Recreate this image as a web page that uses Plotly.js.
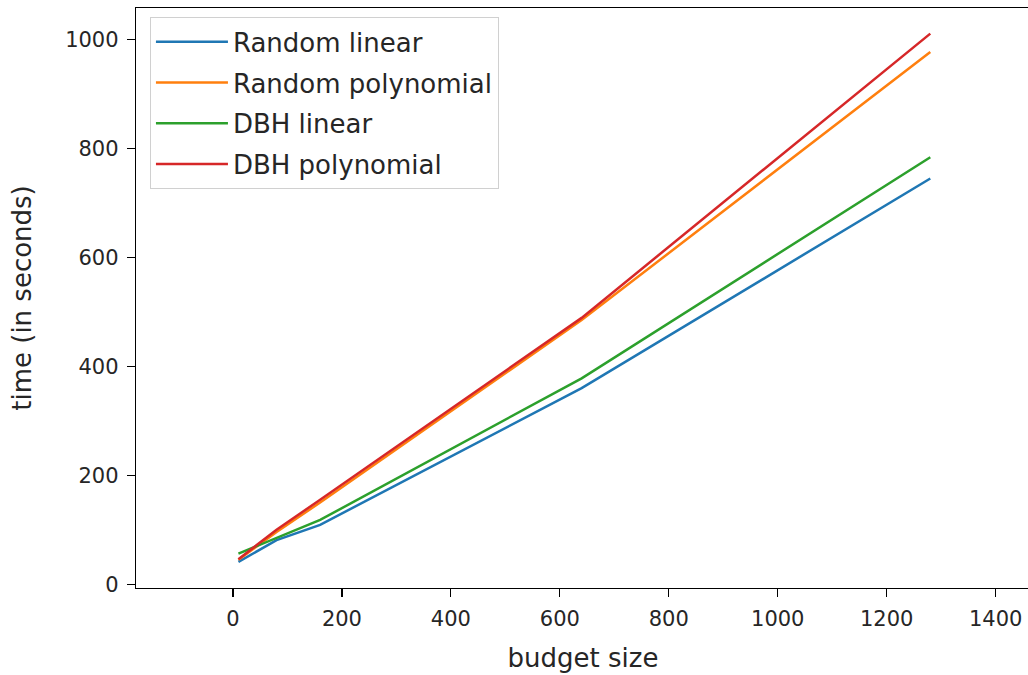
<!DOCTYPE html>
<html>
<head>
<meta charset="utf-8">
<script src="https://cdn.plot.ly/plotly-3.0.1.min.js"></script>
<style>
html,body{margin:0;padding:0;overflow:hidden;background:#fff;width:1028px;height:675px;}
#chart{width:1040px;height:675px;}
</style>
</head>
<body>
<div id="chart"></div>
<script>
const budget = [10, 80, 160, 640, 1280];
const randomLinear = [41, 81, 109, 360, 745];
const randomPoly = [45, 96, 150, 485, 977];
const dbhLinear = [56, 85, 118, 378, 784];
const dbhPoly = [46, 100, 155, 489, 1011];
const seriesNames = ["Random linear", "Random polynomial", "DBH linear", "DBH polynomial"];
const seriesColors = ["#1f77b4", "#ff7f0e", "#2ca02c", "#d62728"];
const seriesValues = [randomLinear, randomPoly, dbhLinear, dbhPoly];
const xTicks = [0, 200, 400, 600, 800, 1000, 1200, 1400];
const yTicks = [0, 200, 400, 600, 800, 1000];

const traces = seriesValues.map((vals, i) => ({
  x: budget, y: vals, type: 'scatter', mode: 'lines', name: seriesNames[i],
  legendgroup: 'g' + i,
  line: {color: seriesColors[i], width: 2.5}
}));

const axisCommon = {
  showline: true, linecolor: '#000', linewidth: 1.2, mirror: true,
  ticks: 'outside', ticklen: 8, tickwidth: 1.2, tickcolor: '#000',
  ticklabelstandoff: 4,
  showgrid: false, zeroline: false,
  tickfont: {family: 'DejaVu Sans', size: 21, color: '#262626'}
};

const layout = {
  width: 1040, height: 675,
  margin: {l: 136, r: 10, t: 8, b: 87},
  paper_bgcolor: '#fff', plot_bgcolor: '#fff',
  font: {family: 'DejaVu Sans', color: '#262626'},
  xaxis: Object.assign({}, axisCommon, {
    range: [-178, 1463], tickvals: xTicks, ticktext: xTicks.map(String),
    title: {text: 'budget size', font: {family: 'DejaVu Sans', size: 26, color: '#262626'}, standoff: 18}
  }),
  yaxis: Object.assign({}, axisCommon, {
    range: [-7, 1058], tickvals: yTicks, ticktext: yTicks.map(String),
    title: {text: 'time (in seconds)', font: {family: 'DejaVu Sans', size: 26, color: '#262626'}, standoff: 26}
  }),
  showlegend: true,
  legend: {
    x: 0.0156, y: 0.984, xanchor: 'left', yanchor: 'top',
    bgcolor: 'rgba(255,255,255,0.8)', bordercolor: '#d0d0d0', borderwidth: 1,
    font: {family: 'DejaVu Sans', size: 26, color: '#262626'},
    itemwidth: 72, tracegroupgap: 4
  }
};

Plotly.newPlot('chart', traces, layout, {staticPlot: true, displayModeBar: false});
</script>
</body>
</html>
